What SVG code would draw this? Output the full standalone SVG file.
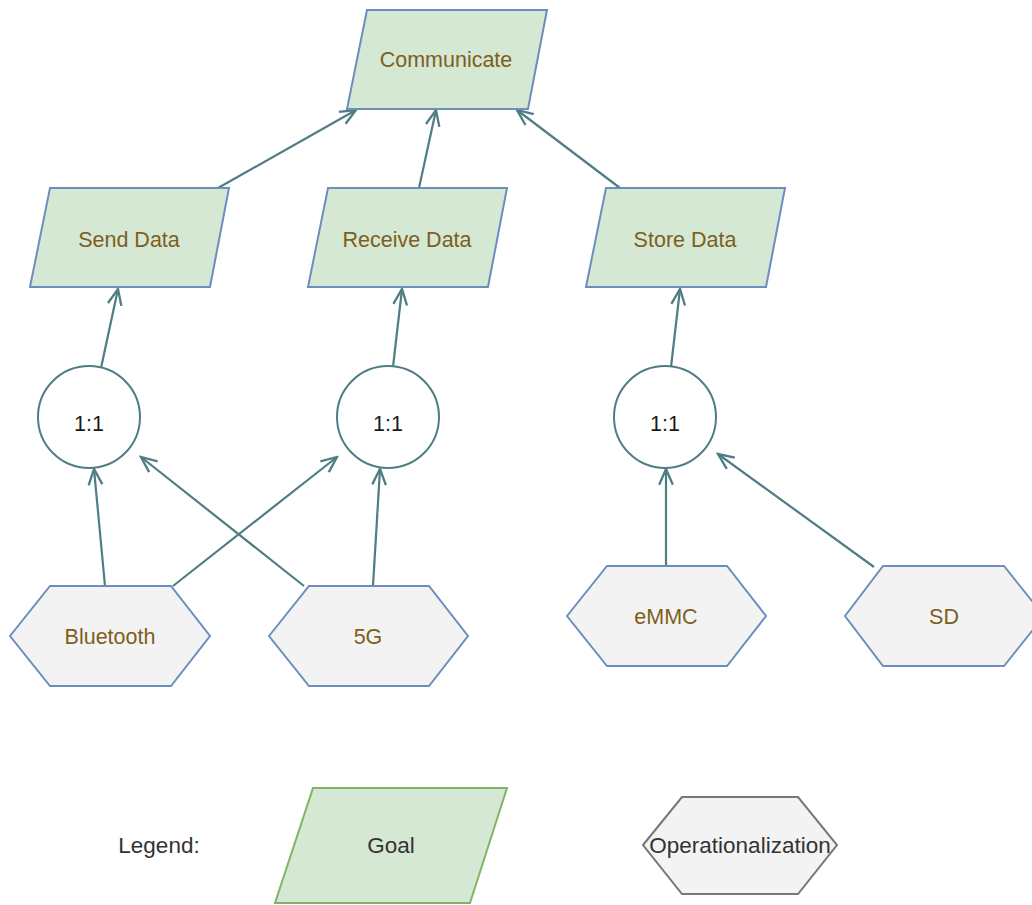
<svg xmlns="http://www.w3.org/2000/svg" width="1032" height="905" viewBox="0 0 1032 905">
  <defs>
    <style>
      text { font-family: "Liberation Sans", Arial, sans-serif; font-size: 21.5px; text-anchor: middle; }
      .goal { fill: #d5e8d4; stroke: #6c8ebf; stroke-width: 2; }
      .op { fill: #f3f3f3; stroke: #6c8ebf; stroke-width: 2; }
      .dec { fill: #ffffff; stroke: #4f7d84; stroke-width: 2; }
      .lbl { fill: #7d5f1e; }
      .dark { fill: #333333; }
      .edge { fill: none; stroke: #4f7d84; stroke-width: 2.2; marker-end: url(#open); }
    </style>
    <marker id="open" markerUnits="userSpaceOnUse" markerWidth="20" markerHeight="20" viewBox="-17 -8 19 16" refX="0" refY="0" orient="auto">
      <path d="M -15 -6.5 L 0 0 L -15 6.5" fill="none" stroke="#4f7d84" stroke-width="2.2"/>
    </marker>
  </defs>

  <rect width="1032" height="905" fill="#ffffff"/>

  <!-- connectors -->
  <g id="connectors">
    <line class="edge" x1="218" y1="188" x2="356" y2="110"/>
    <line class="edge" x1="419" y1="188" x2="436" y2="110"/>
    <line class="edge" x1="620" y1="188" x2="517" y2="110"/>
    <line class="edge" x1="101" y1="368" x2="118" y2="289"/>
    <line class="edge" x1="393" y1="367" x2="402" y2="289"/>
    <line class="edge" x1="671" y1="367" x2="680" y2="289"/>
    <line class="edge" x1="105" y1="586" x2="94" y2="469"/>
    <line class="edge" x1="173" y1="586" x2="337" y2="457"/>
    <line class="edge" x1="304" y1="586" x2="141" y2="457"/>
    <line class="edge" x1="373" y1="586" x2="380" y2="469"/>
    <line class="edge" x1="666" y1="566" x2="666" y2="469"/>
    <line class="edge" x1="874" y1="567" x2="718" y2="454"/>
  </g>

  <!-- goals -->
  <g id="communicate">
    <polygon class="goal" points="367,10 547,10 528,109 347,109"/>
    <text class="lbl" x="446" y="67">Communicate</text>
  </g>
  <g id="send-data">
    <polygon class="goal" points="50,188 229,188 210,287 30,287"/>
    <text class="lbl" x="129" y="247">Send Data</text>
  </g>
  <g id="receive-data">
    <polygon class="goal" points="328,188 507,188 488,287 308,287"/>
    <text class="lbl" x="407" y="247">Receive Data</text>
  </g>
  <g id="store-data">
    <polygon class="goal" points="606,188 785,188 766,287 586,287"/>
    <text class="lbl" x="685" y="247">Store Data</text>
  </g>

  <!-- decompositions -->
  <g id="dec-send">
    <circle class="dec" cx="89" cy="417" r="51"/>
    <text x="89" y="431" fill="#1a1a1a">1:1</text>
  </g>
  <g id="dec-receive">
    <circle class="dec" cx="388" cy="417" r="51"/>
    <text x="388" y="431" fill="#1a1a1a">1:1</text>
  </g>
  <g id="dec-store">
    <circle class="dec" cx="665" cy="417" r="51"/>
    <text x="665" y="431" fill="#1a1a1a">1:1</text>
  </g>

  <!-- operationalizations -->
  <g id="bluetooth">
    <polygon class="op" points="10,636 50,586 171,586 210,636 171,686 50,686"/>
    <text class="lbl" x="110" y="644">Bluetooth</text>
  </g>
  <g id="five-g">
    <polygon class="op" points="269,636 309,586 429,586 468,636 429,686 309,686"/>
    <text class="lbl" x="368" y="644">5G</text>
  </g>
  <g id="emmc">
    <polygon class="op" points="567,616 607,566 727,566 766,616 727,666 607,666"/>
    <text class="lbl" x="666" y="624">eMMC</text>
  </g>
  <g id="sd">
    <polygon class="op" points="845,616 883,566 1004,566 1044,616 1004,666 883,666"/>
    <text class="lbl" x="944" y="624">SD</text>
  </g>

  <!-- legend -->
  <g id="legend">
    <text class="dark" x="159" y="853" style="font-size:22.5px">Legend:</text>
    <g id="legend-goal">
      <polygon points="313,788 507,788 470,903 275,903" fill="#d5e8d4" stroke="#82b366" stroke-width="2"/>
      <text class="dark" x="391" y="853" style="font-size:22.5px">Goal</text>
    </g>
    <g id="legend-op">
      <polygon points="643,845 682,797 798,797 837,845 798,894 682,894" fill="#f3f3f3" stroke="#777777" stroke-width="2"/>
      <text class="dark" x="740" y="853" style="font-size:22.5px">Operationalization</text>
    </g>
  </g>
</svg>
